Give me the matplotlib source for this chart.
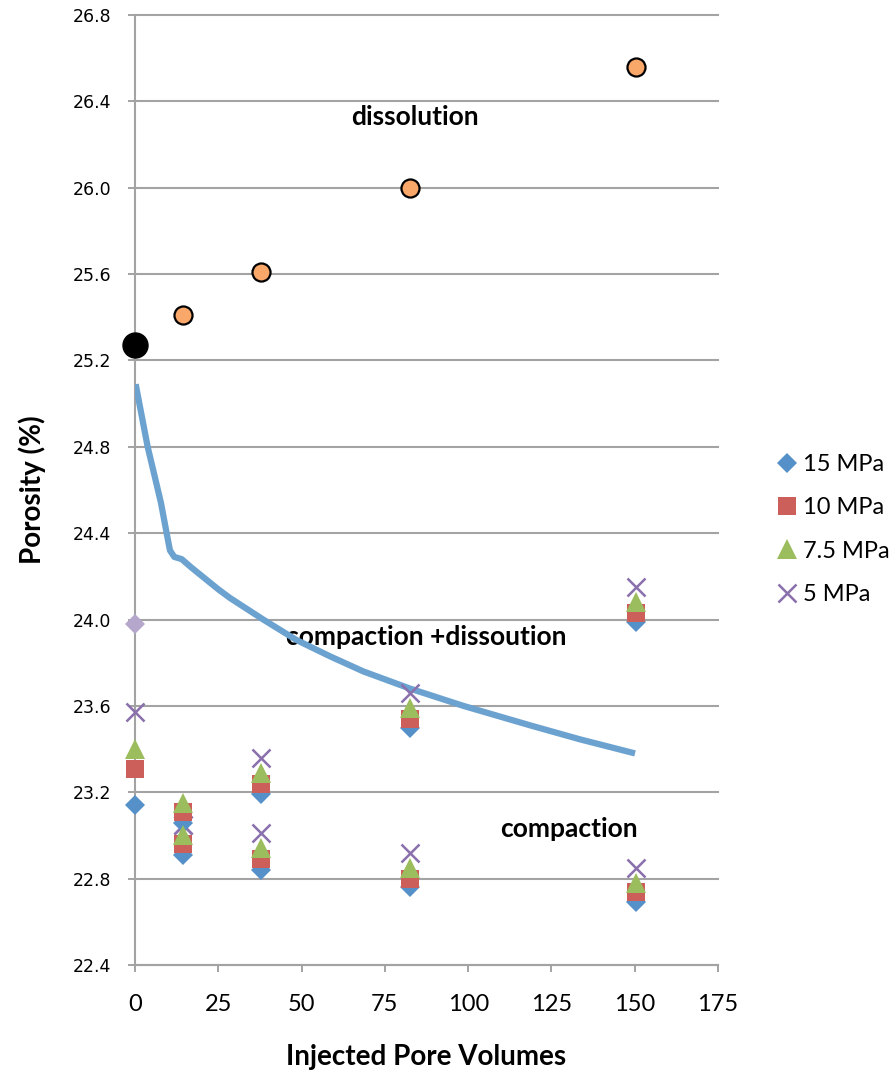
import matplotlib
matplotlib.use("Agg")
import matplotlib.pyplot as plt
import numpy as np

# Injected pore volumes at which samples were measured
pv = [0, 14.4, 14.4, 37.8, 37.8, 82.6, 82.6, 150.4, 150.4]

# Porosity (%) under each confining stress
por_15 = [23.14, 23.06, 22.91, 23.19, 22.84, 23.50, 22.76, 23.99, 22.69]
por_10 = [23.31, 23.11, 22.96, 23.24, 22.89, 23.54, 22.80, 24.03, 22.74]
por_7_5 = [23.40, 23.15, 23.00, 23.29, 22.94, 23.59, 22.85, 24.08, 22.78]
por_5 = [23.57, 23.05, 23.05, 23.36, 23.01, 23.66, 22.92, 24.15, 22.85]

series_labels = ["15 MPa", "10 MPa", "7.5 MPa", "5 MPa"]

# Dissolution-only trend
diss_pv = [14.4, 37.8, 82.6, 150.4]
diss_por = [25.41, 25.61, 26.00, 26.56]

# Initial porosity and reference point
init_pv, init_por = 0, 25.27
ref_pv, ref_por = 0, 23.98

# Compaction + dissolution curve
curve_pv = [0.2, 3.8, 5.5, 7.8, 9.5, 10.5, 11.8, 14.0, 17.0, 21.0, 25.0,
            28.5, 38.5, 48.5, 58.5, 68.5, 82.6, 98.6, 118.6, 133.6, 150.1]
curve_por = [25.09, 24.80, 24.69, 24.54, 24.40, 24.32, 24.29, 24.28, 24.24,
             24.19, 24.14, 24.10, 24.00, 23.905, 23.83, 23.76, 23.68, 23.60,
             23.51, 23.445, 23.38]

x_ticks = [0, 25, 50, 75, 100, 125, 150, 175]
y_ticks = [22.4, 22.8, 23.2, 23.6, 24.0, 24.4, 24.8, 25.2, 25.6, 26.0, 26.4, 26.8]

W, H = 895, 1077
fig = plt.figure(figsize=(W / 100, H / 100), dpi=100)
ax = fig.add_axes([135 / W, 1 - 965 / H, 583 / W, 950 / H])

grid_c = "#A3A3A3"
ax.set_xlim(0, 175)
ax.set_ylim(22.4, 26.8)
ax.set_xticks(x_ticks)
ax.set_yticks(y_ticks)
ax.set_yticklabels([f"{v:.1f}" for v in y_ticks], fontfamily="DejaVu Sans", fontsize=12.5)
ax.set_xticklabels([str(v) for v in x_ticks], fontfamily="Lato", fontsize=17)
ax.tick_params(axis="y", length=5, width=1.4, color=grid_c, pad=12)
ax.tick_params(axis="x", length=5, width=1.4, color=grid_c, pad=16)

for s in ["top", "right"]:
    ax.spines[s].set_visible(False)
for s in ["left", "bottom"]:
    ax.spines[s].set_color(grid_c)
    ax.spines[s].set_linewidth(1.5)

ax.set_axisbelow(True)
ax.yaxis.grid(True, color=grid_c, linewidth=1.5)
for gl in ax.get_ygridlines():
    gl.set_clip_on(False)

# Measured series (crosses sit just beneath the filled markers)
styles = [
    dict(marker="D", color="#5591C8", ms=10.5, z=5),
    dict(marker="s", color="#CD5F5B", ms=13.5, z=5),
    dict(marker="^", color="#9CBD5E", ms=14, z=5),
    dict(marker="x", color="#8A70AC", ms=12.5, mew=1.8, z=4.9),
]
handles = []
for y, st, lab in zip([por_15, por_10, por_7_5, por_5], styles, series_labels):
    h, = ax.plot(pv, y, linestyle="none", marker=st["marker"], color=st["color"],
                 ms=st["ms"], mew=st.get("mew", 0), label=lab, zorder=st["z"],
                 clip_on=False)
    handles.append(h)

ax.plot([ref_pv], [ref_por], linestyle="none", marker="D", color="#B5A6CC",
        ms=10.5, mew=0, zorder=5, clip_on=False)

ax.plot(diss_pv, diss_por, linestyle="none", marker="o", ms=13,
        markerfacecolor="#F9A86A", markeredgecolor="black", mew=1.6, zorder=6,
        clip_on=False)
ax.plot([init_pv], [init_por], linestyle="none", marker="o", ms=18,
        color="black", zorder=6, clip_on=False)

# Region annotations
txt_kw = dict(fontfamily="Lato", fontweight="bold", fontsize=19,
              ha="center", va="center", zorder=3)
ax.text(84.1, 26.326, "dissolution", **txt_kw)
ax.text(87.4, 23.92, "compaction +dissoution", **txt_kw)
ax.text(130.3, 23.03, "compaction", **txt_kw)

ax.plot(curve_pv, curve_por, color="#6CA2CF", linewidth=4.5,
        solid_joinstyle="round", solid_capstyle="butt", zorder=4)

ax.set_xlabel("Injected Pore Volumes", fontfamily="Lato", fontweight="bold", fontsize=20)
ax.xaxis.set_label_coords(0.5, (965 - 1057) / 950)
ax.xaxis.label.set_va("center")
ax.set_ylabel("Porosity (%)", fontfamily="Lato", fontweight="bold", fontsize=20)
ax.yaxis.set_label_coords((32 - 135) / 583, 0.5)
ax.yaxis.label.set_va("center")

fig.legend(handles=handles, labels=series_labels, loc="center left",
           bbox_to_anchor=(775 / W, 1 - 529.5 / H), bbox_transform=fig.transFigure,
           frameon=False, borderpad=0, borderaxespad=0, handlelength=1.0,
           handletextpad=0.2, labelspacing=0.95,
           prop=dict(family="Lato", size=17))

fig.savefig("out.png", dpi=100)
